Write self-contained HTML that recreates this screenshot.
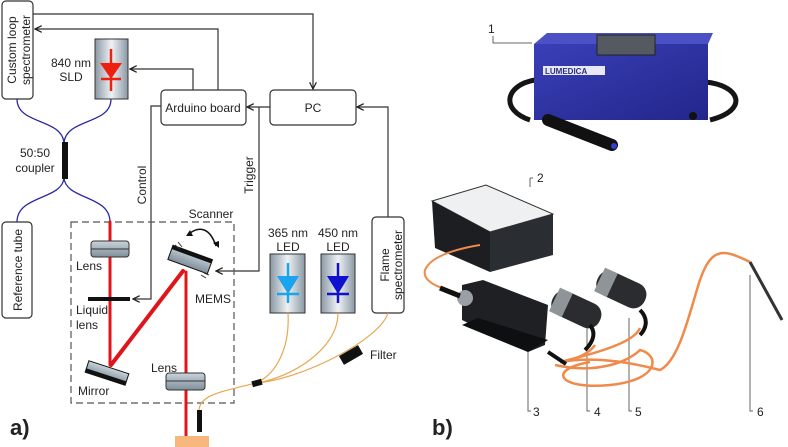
<!DOCTYPE html>
<html><head><meta charset="utf-8"><style>
body{margin:0;background:#fff}
svg{display:block;font-family:"Liberation Sans",sans-serif}
</style></head><body>
<svg width="788" height="447" viewBox="0 0 788 447" xmlns="http://www.w3.org/2000/svg">
<defs>
<linearGradient id="g" x1="0" x2="1"><stop offset="0" stop-color="#8a98a4"/><stop offset=".5" stop-color="#eef2f5"/><stop offset="1" stop-color="#8a98a4"/></linearGradient>
<linearGradient id="lg" x1="0" y1="0" x2="0" y2="1"><stop offset="0" stop-color="#c9d3da"/><stop offset="1" stop-color="#7f8f9b"/></linearGradient>
<linearGradient id="bl" x1="0" y1="0" x2="1" y2="1"><stop offset="0" stop-color="#3a3fb8"/><stop offset="1" stop-color="#22268a"/></linearGradient>
<marker id="a" viewBox="0 0 10 10" refX="9" refY="5" markerWidth="7" markerHeight="7" orient="auto"><path d="M1 1L9 5L1 9" fill="none" stroke="#222" stroke-width="1.5"/></marker>
</defs>
<g fill="none" stroke="#333" stroke-width="1.2">
<rect x="2" y="1" width="31" height="98" rx="4" fill="#fff"/>
<rect x="2" y="222" width="30" height="96" rx="4" fill="#fff"/>
<rect x="161" y="90" width="85" height="35" rx="4" fill="#fff"/>
<rect x="270" y="90" width="86" height="35" rx="4" fill="#fff"/>
<rect x="372" y="217" width="32" height="96" rx="4" fill="#fff"/>
<path d="M33 14H313V89" marker-end="url(#a)"/>
<path d="M218 90V29H35" marker-end="url(#a)"/>
<path d="M193 90V69H130" marker-end="url(#a)"/>
<path d="M270 107H247" marker-end="url(#a)"/>
<path d="M388 217V107H357" marker-end="url(#a)"/>
<path d="M161 106H151V299H133" marker-end="url(#a)"/>
<path d="M259 107V271H216" marker-end="url(#a)"/>
<rect x="71" y="222" width="163" height="181" stroke="#555" stroke-dasharray="7 4"/>
</g>
<g fill="none" stroke="#2a2aa0" stroke-width="1.3">
<path d="M17 99C17 125 62 118 64 143"/>
<path d="M111 99C111 125 66 118 64 143"/>
<path d="M64 178C62 200 17 195 17 222"/>
<path d="M64 178C66 200 110 195 110 222"/>
</g>
<rect x="62" y="142" width="6" height="37" fill="#111"/>
<rect x="95" y="39" width="33" height="60" fill="url(#g)" stroke="#333"/>
<g stroke="#f02010" stroke-width="2.5"><path d="M111 49V91M101 79H121"/></g>
<path d="M100 63H122L111 79Z" fill="#f02010"/>
<rect x="270" y="254" width="35" height="59" fill="url(#g)" stroke="#333"/>
<rect x="321" y="254" width="34" height="59" fill="url(#g)" stroke="#333"/>
<g stroke="#1aa3ee" stroke-width="2.5"><path d="M288 263V303M277 294H299"/></g>
<path d="M277 276H299L288 294Z" fill="#1aa3ee"/>
<g stroke="#1010d0" stroke-width="2.5"><path d="M338 263V303M327 294H349"/></g>
<path d="M327 276H349L338 294Z" fill="#1010d0"/>
<g stroke="#e0141a" stroke-linecap="round">
<path d="M110 222V365" stroke-width="3"/>
<path d="M111 365L183 271" stroke-width="4"/>
<path d="M186 272V440" stroke-width="3"/>
</g>
<rect x="91" y="241" width="38" height="16" rx="3" fill="url(#lg)" stroke="#333"/>
<path d="M91 249H129" stroke="#333"/>
<rect x="166" y="373" width="39" height="17" rx="3" fill="url(#lg)" stroke="#333"/>
<path d="M166 381H205" stroke="#333"/>
<rect x="88" y="297" width="42" height="4" fill="#111"/>
<g transform="rotate(18 107 373)"><rect x="86" y="367" width="42" height="12" fill="url(#lg)" stroke="#111"/><rect x="86" y="375" width="42" height="4" fill="#111"/></g>
<g transform="rotate(20 190 260)"><rect x="169" y="252" width="42" height="15" fill="url(#lg)" stroke="#111"/><rect x="169" y="252" width="42" height="4" fill="#111"/></g>
<path d="M190 233C200 226 210 228 216 246" fill="none" stroke="#111" stroke-width="1.5"/>
<path d="M186 236l4-6 3 6zM213 243l6 5 0-7z" fill="#111"/>
<g stroke="#333"><path d="M175 245l5 4M178 242l4 5M206 278l-5-3M209 275l-5-2"/></g>
<rect x="197" y="410" width="5" height="22" fill="#111"/>
<rect x="175" y="436" width="34" height="11" fill="#f7b77d"/>
<g fill="none" stroke="#e6a850" stroke-width="1.2">
<path d="M288 313C290 350 275 375 256 383"/>
<path d="M338 313C338 350 290 378 256 383"/>
<path d="M388 313C380 340 300 380 256 383"/>
<path d="M256 383C220 392 200 395 199 410"/>
</g>
<rect x="252" y="380" width="10" height="6" fill="#111" transform="rotate(-15 257 383)"/>
<rect x="340" y="350" width="22" height="10" fill="#111" transform="rotate(-30 351 355)"/>
<g font-size="12" fill="#222">
<text transform="translate(16 50) rotate(-90)" text-anchor="middle">Custom loop</text>
<text transform="translate(30 50) rotate(-90)" text-anchor="middle">spectrometer</text>
<text transform="translate(22 270) rotate(-90)" text-anchor="middle">Reference tube</text>
<text transform="translate(389 265) rotate(-90)" text-anchor="middle">Flame</text>
<text transform="translate(402 265) rotate(-90)" text-anchor="middle">spectrometer</text>
<text transform="translate(146 185) rotate(-90)" text-anchor="middle">Control</text>
<text transform="translate(253 175) rotate(-90)" text-anchor="middle">Trigger</text>
<text x="71" y="67" text-anchor="middle">840 nm</text>
<text x="71" y="81" text-anchor="middle">SLD</text>
<text x="203" y="112" text-anchor="middle">Arduino board</text>
<text x="313" y="112" text-anchor="middle">PC</text>
<text x="35" y="157" text-anchor="middle">50:50</text>
<text x="35" y="172" text-anchor="middle">coupler</text>
<text x="211" y="218" text-anchor="middle">Scanner</text>
<text x="76" y="270">Lens</text>
<text x="76" y="314">Liquid</text>
<text x="76" y="329">lens</text>
<text x="78" y="395">Mirror</text>
<text x="151" y="372">Lens</text>
<text x="195" y="303">MEMS</text>
<text x="288" y="237" text-anchor="middle">365 nm</text>
<text x="288" y="251" text-anchor="middle">LED</text>
<text x="338" y="237" text-anchor="middle">450 nm</text>
<text x="338" y="251" text-anchor="middle">LED</text>
<text x="370" y="359">Filter</text>
<text x="10" y="435" font-size="22" font-weight="bold">a)</text>
<text x="432" y="435" font-size="22" font-weight="bold">b)</text>
<text x="488" y="33">1</text>
<text x="537" y="182">2</text>
<text x="533" y="416">3</text>
<text x="594" y="416">4</text>
<text x="635" y="416">5</text>
<text x="757" y="416">6</text>
</g>
<g fill="none" stroke="#666" stroke-width="1"><path d="M493 36V43H532"/><path d="M530 178V187M530 178h3"/><path d="M528 352V411h3"/><path d="M587 325V411h3"/><path d="M629 318V411h3"/><path d="M750 275V411h3"/></g>
<path d="M535 80C505 85 500 110 530 120M705 82C740 85 750 110 710 120" fill="none" stroke="#151515" stroke-width="5"/>
<polygon points="534,44 547,33 713,33 708,44" fill="#4b50c4"/>
<rect x="534" y="44" width="174" height="76" fill="url(#bl)"/>
<rect x="597" y="35" width="58" height="20" fill="#555a60" stroke="#222"/>
<rect x="543" y="66" width="62" height="9" fill="#e8e8f5"/>
<text x="545" y="74" font-size="8" font-weight="bold" fill="#2a2e80">LUMEDICA</text>
<path d="M548 120L612 145" stroke="#111" stroke-width="12" stroke-linecap="round"/>
<circle cx="614" cy="146" r="3" fill="#3040d0"/>
<circle cx="693" cy="116" r="4" fill="#111"/>
<polygon points="432,201 486,185 553,214 490,232" fill="#eef0f2" stroke="#333"/>
<polygon points="432,201 490,232 490,272 435,248" fill="#1c1e22"/>
<polygon points="490,232 553,214 553,255 490,272" fill="#2a2d32"/>
<path d="M480 245C450 250 430 258 425 270C422 282 440 288 455 292" fill="none" stroke="#f08a4a" stroke-width="2"/>
<polygon points="462,285 483,280 548,305 545,345 528,352 462,320" fill="#1e2024"/>
<polygon points="478,318 548,340 528,352 462,325" fill="#0e0f11"/>
<circle cx="465" cy="298" r="8" fill="#9aa0a6"/>
<path d="M440 288L460 296" stroke="#111" stroke-width="5"/>
<g transform="rotate(25 575 310)"><rect x="550" y="296" width="52" height="26" rx="12" fill="#2a2c30"/><rect x="552" y="296" width="14" height="26" fill="#8f9499"/></g>
<g transform="rotate(25 620 290)"><rect x="595" y="276" width="52" height="26" rx="12" fill="#2a2c30"/><rect x="597" y="276" width="14" height="26" fill="#8f9499"/></g>
<g fill="none" stroke="#f08a4a" stroke-width="2.5">
<path d="M555 365C600 375 630 360 640 350C660 355 660 380 610 385C560 390 545 370 590 362"/>
<path d="M560 362C600 355 640 365 660 370C680 360 690 310 700 280C712 245 725 250 750 262"/>
<path d="M595 345C590 352 580 358 568 360"/>
<path d="M640 328C635 340 610 350 560 362"/>
</g>
<path d="M548 352L566 364" stroke="#111" stroke-width="4"/>
<path d="M590 325C598 335 590 345 585 350M640 310C650 320 645 330 640 335" fill="none" stroke="#111" stroke-width="4"/>
<path d="M750 262L782 320" stroke="#333" stroke-width="3"/>
</svg>
</body></html>
